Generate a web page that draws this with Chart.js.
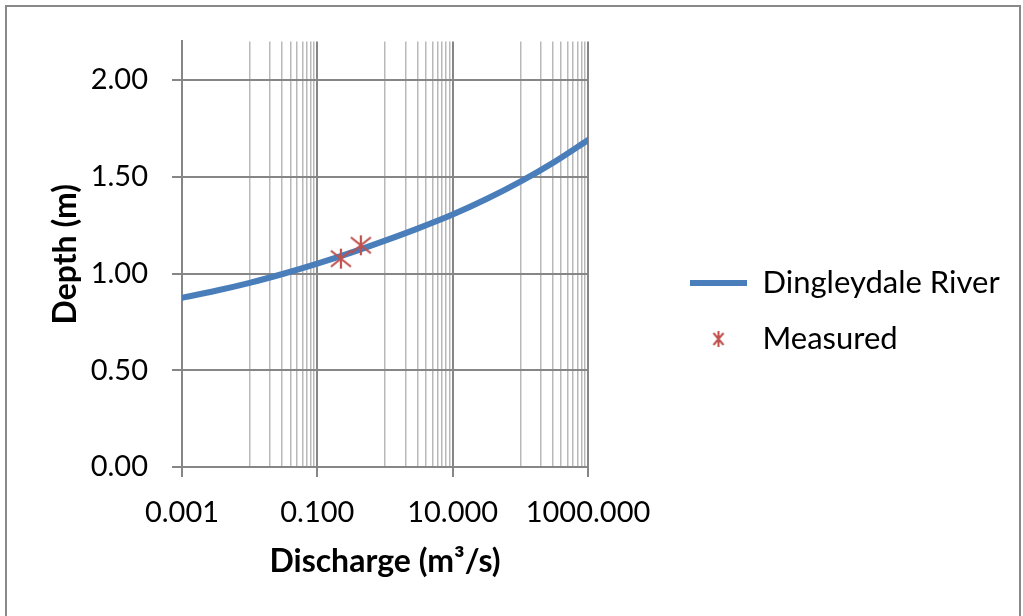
<!DOCTYPE html>
<html>
<head>
<meta charset="utf-8">
<script src="https://cdn.jsdelivr.net/npm/chart.js@4.4.0/dist/chart.umd.min.js"></script>
<style>
  html, body { margin: 0; padding: 0; background: #fff; }
  #wrap { width: 1023px; height: 616px; }
</style>
</head>
<body>
<div id="wrap"><canvas id="grafico" width="1023" height="616"></canvas></div>
<script>
// rating curve
const discharge = [0.001, 0.00316, 0.01, 0.0316, 0.1, 0.316, 1, 3.16, 10, 31.6, 100, 316, 1000];
const depth = [0.875, 0.911, 0.952, 0.999, 1.051, 1.108, 1.170, 1.235, 1.305, 1.385, 1.475, 1.576, 1.690];
// measured points
const measuredQ = [0.223, 0.44];
const measuredDepth = [1.077, 1.146];
// axis ticks
const xLabelTicks = [0.001, 0.1, 10, 1000];
const xMinorTicks = [0.01, 0.02, 0.03, 0.04, 0.05, 0.06, 0.07, 0.08, 0.09,
                     1, 2, 3, 4, 5, 6, 7, 8, 9,
                     100, 200, 300, 400, 500, 600, 700, 800, 900];
const yTicks = [0, 0.5, 1, 1.5, 2];

const fuente = "Lato, 'DejaVu Sans', sans-serif";
const gris = "#868686";
const grisClaro = "#b9b9b9";

function hacerEstrella(w, h, lw) {
  const c = document.createElement("canvas");
  c.width = w; c.height = h;
  const g = c.getContext("2d");
  g.strokeStyle = "#c0504d";
  g.lineWidth = lw;
  g.beginPath();
  g.moveTo(w / 2, 1); g.lineTo(w / 2, h - 1);
  g.moveTo(2, 3); g.lineTo(w - 2, h - 3);
  g.moveTo(w - 2, 3); g.lineTo(2, h - 3);
  g.stroke();
  return c;
}
const estrella = hacerEstrella(24, 22, 2.2);
const estrellaLeyenda = hacerEstrella(14, 18, 2);

const esMayor = (v) => xLabelTicks.includes(v);

const ajustes = {
  id: "ajustes",
  beforeLayout(chart) {
    const lg = chart.legend;
    if (lg && !lg._ajustado) {
      const fit = lg.fit.bind(lg);
      lg.fit = () => { fit(); lg.width = 435; };
      lg._ajustado = true;
    }
  },
  afterLayout(chart) {
    const lg = chart.legend;
    lg.left = 665; lg.right = 1023; lg.top = 6; lg.bottom = 616;
  },
  beforeDraw(chart) {
    const ctx = chart.ctx;
    ctx.save();
    ctx.strokeStyle = "#898989";
    ctx.lineWidth = 2;
    ctx.strokeRect(6, 6, 1014, 622);
    ctx.restore();
  }
};

const grafico = document.querySelector("#grafico");
new Chart(grafico, {
  type: "line",
  data: {
    datasets: [
      {
        label: "Dingleydale River",
        data: discharge.map((q, i) => ({ x: q, y: depth[i] })),
        borderColor: "#4a7ebb",
        backgroundColor: "#4a7ebb",
        borderWidth: 6,
        borderCapStyle: "round",
        pointRadius: 0,
        pointStyle: "line",
        cubicInterpolationMode: "monotone",
        order: 2,
      },
      {
        label: "Measured",
        data: measuredQ.map((q, i) => ({ x: q, y: measuredDepth[i] })),
        showLine: false,
        pointStyle: estrella,
        pointRadius: 11,
        borderColor: "#c0504d",
        backgroundColor: "#c0504d",
        order: 1,
      },
    ],
  },
  options: {
    responsive: false,
    animation: false,
    layout: { padding: { top: 41, left: 38, right: 0, bottom: 20 } },
    plugins: {
      tooltip: { enabled: false },
      legend: {
        position: "right",
        labels: {
          usePointStyle: true,
          pointStyleWidth: 57,
          padding: 25,
          color: "#000",
          font: { family: fuente, size: 31 },
          sort: (a, b) => a.datasetIndex - b.datasetIndex,
          generateLabels(chart) {
            const items = Chart.defaults.plugins.legend.labels.generateLabels(chart);
            items.forEach((it) => {
              if (it.datasetIndex === 1) it.pointStyle = estrellaLeyenda;
            });
            return items;
          },
        },
      },
    },
    scales: {
      x: {
        type: "logarithmic",
        min: 0.001,
        max: 1000,
        afterBuildTicks(axis) {
          axis.ticks = xLabelTicks.concat(xMinorTicks)
            .sort((a, b) => a - b)
            .map((v) => ({ value: v, major: esMayor(v) }));
        },
        afterFit(axis) { axis.height = 616 - 20 - 467; },
        border: { color: gris, width: 2 },
        grid: {
          color: (c) => (c.tick && esMayor(c.tick.value) ? gris : grisClaro),
          lineWidth: (c) => (c.tick && esMayor(c.tick.value) ? 2 : 1.5),
          tickColor: (c) => (c.tick && esMayor(c.tick.value) ? gris : "rgba(0,0,0,0)"),
          tickLength: 10,
        },
        ticks: {
          autoSkip: false,
          maxRotation: 0,
          padding: 18,
          color: "#000",
          font: { family: fuente, size: 29 },
          callback: (v) => (esMayor(v) ? v.toFixed(3) : ""),
        },
        title: {
          display: true,
          text: "Discharge (m³/s)",
          color: "#000",
          font: { family: fuente, size: 32, weight: "bold" },
          padding: { top: 0, bottom: 15 },
        },
      },
      y: {
        min: 0,
        max: 2.2,
        afterBuildTicks(axis) {
          axis.ticks = yTicks.map((v) => ({ value: v }));
        },
        afterFit(axis) { axis.width = 182 - 38; },
        border: { color: gris, width: 2 },
        grid: { color: gris, lineWidth: 2, tickLength: 10 },
        ticks: {
          padding: 24,
          color: "#000",
          font: { family: fuente, size: 29 },
          callback: (v) => v.toFixed(2),
        },
        title: {
          display: true,
          text: "Depth (m)",
          color: "#000",
          font: { family: fuente, size: 32, weight: "bold" },
          padding: { top: 8, bottom: 0 },
        },
      },
    },
  },
  plugins: [ajustes],
});
</script>
</body>
</html>
